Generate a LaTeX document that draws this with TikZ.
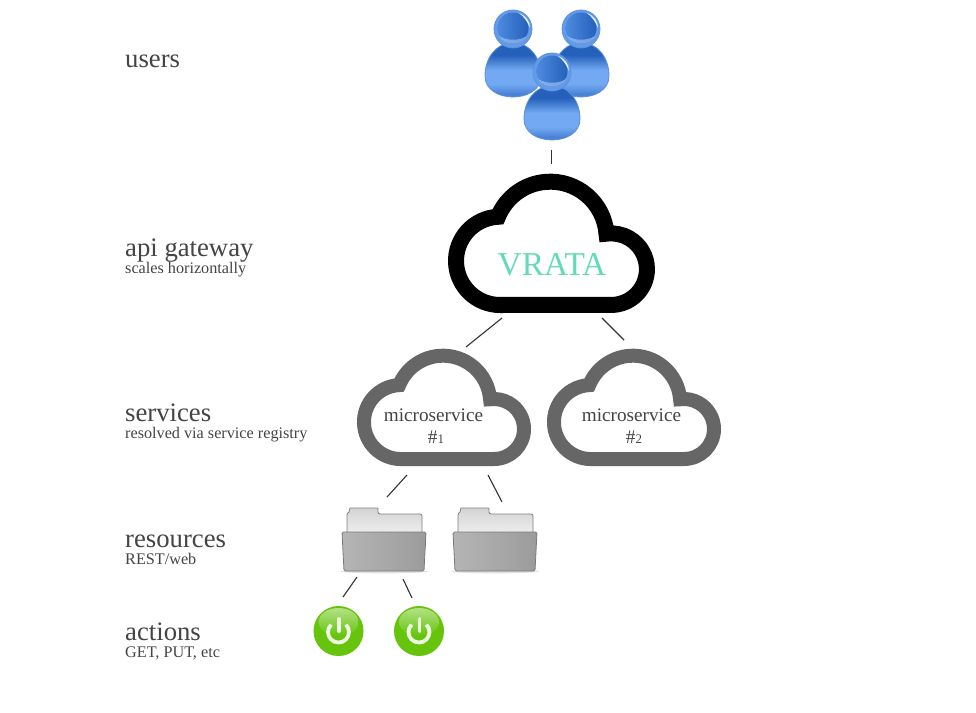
\documentclass[tikz,border=0pt]{standalone}
\usepackage{fontspec}
\setmainfont{Liberation Serif}
\usetikzlibrary{positioning, calc}

\definecolor{labelgray}{HTML}{444444}
\definecolor{cloudgray}{HTML}{666666}
\definecolor{vratagreen}{HTML}{63DBB8}
\definecolor{linkgray}{HTML}{333333}
\definecolor{powergreen}{HTML}{66C40C}
\definecolor{bodyA}{HTML}{2560BA}
\definecolor{bodyB}{HTML}{72A9F2}
\definecolor{bodyC}{HTML}{3F7DD8}
\definecolor{bodyD}{HTML}{4A83D6}

\pgfdeclareverticalshading{bodyshade}{100bp}{
  color(0bp)=(bodyD); color(25bp)=(bodyD); color(28bp)=(bodyD); color(37bp)=(bodyB); color(50bp)=(bodyB);
  color(64bp)=(bodyA); color(75bp)=(bodyA); color(100bp)=(bodyA)}

\tikzset{
  iconbox/.style={inner sep=0pt, outer sep=0pt},
  biglabel/.style={anchor=base west, inner sep=0pt, text=labelgray, font=\fontsize{26.7}{30}\selectfont},
  sublabel/.style={anchor=base west, inner sep=0pt, text=labelgray, font=\fontsize{16.2}{18}\selectfont},
  microtext/.style={inner sep=0pt, align=center, text=labelgray, font=\fontsize{19.2}{21.7}\selectfont},
  link/.style={draw=linkgray, line width=1.1pt},
  pics/cloudshape/.style={code={
    \draw[pic actions, line join=miter] (-43,51.5) -- (50,51.5)
      arc[start angle=90, end angle=-97.5, radius=30]
      arc[start angle=-4.5, end angle=-157.8, radius=47.3]
      arc[start angle=-92.8, end angle=-270, radius=37] -- cycle;
  }},
  pics/person/.style={code={
    \shade[shading=bodyshade, draw=bodyC!85!white, line width=.8pt] (0,14)
      .. controls (18,14) and (28,30) .. (28,47)
      .. controls (28,61) and (14,68) .. (0,68)
      .. controls (-14,68) and (-28,61) .. (-28,47)
      .. controls (-28,30) and (-18,14) .. (0,14) -- cycle;
    \fill[bodyB!80!bodyA] (0,0) circle (19);
    \draw[bodyC!85!white, line width=.8pt] (0,0) circle (19);
    \shade[left color=bodyC!70!bodyB, right color=bodyA] (0,-1) circle (15.5);
    \fill[white, opacity=.85] (6,-16) .. controls (13,-13) and (17,-8) .. (17,-1)
      .. controls (14,-8) and (11,-12) .. (6,-16) -- cycle;
    \fill[bodyB!60!white, opacity=.6] (-14,7) .. controls (-6,12) and (6,12) .. (14,7)
      .. controls (8,17) and (-8,17) .. (-14,7) -- cycle;
  }},
  pics/folder/.style={code={
    \fill[black!12] (0,32.5) ellipse (44 and 1.8);
    \shade[top color=black!17, bottom color=black!7, draw=black!50, line width=.8pt]
      (-37,-6) -- (-37,-24) .. controls (-37,-26) and (-36,-26) .. (-35,-27)
      -- (-34,-31) -- (-7,-31) .. controls (-6,-31) and (-6,-30) .. (-6,-29)
      -- (-6,-27) .. controls (-6,-26) and (-5,-25) .. (-4,-25)
      -- (36,-25) .. controls (38,-25) and (38,-24) .. (38,-22) -- (38,-6) -- cycle;
    \shade[left color=black!29, right color=black!39, draw=black!52, line width=.8pt, rounded corners=1.5pt]
      (-42,-7) -- (42,-7) -- (40,32) -- (-40,32) -- cycle;
  }},
  pics/powerbutton/.style={code={
    \fill[powergreen] (0,0) circle (25);
    \shade[top color=white!50!powergreen, bottom color=powergreen] (0,-9) ellipse (20 and 14);
    \draw[white!88!powergreen, line width=3.8pt] (7.4,-6.4)
      arc[start angle=-45, end angle=225, radius=10.5];
    \draw[white!88!powergreen, line width=3.8pt, line cap=round] (.5,-12) -- (.5,0);
  }},
}

\begin{document}
\begin{tikzpicture}[x=1pt, y=-1pt]
  \useasboundingbox (0,0) rectangle (976,712);
  \fill[white] (0,0) rectangle (976,712);

  % boxes the icons sit in
  \node[iconbox, minimum width=123pt, minimum height=130pt] (users) at (547.5,75) {};
  \node[iconbox, minimum width=207pt, minimum height=139pt] (vrata) at (551.5,243.5) {};
  \node[iconbox, minimum width=174pt, minimum height=117pt] (micro1) at (444,407.5) {};
  \node[iconbox, minimum width=174pt, minimum height=117pt, right=16pt of micro1] (micro2) {};
  \node[iconbox, minimum width=84pt, minimum height=66pt] (folder1) at (384,539) {};
  \node[iconbox, minimum width=84pt, minimum height=66pt, right=27pt of folder1] (folder2) {};
  \node[iconbox, circle, minimum size=50pt] (power1) at (338.5,631) {};
  \node[iconbox, circle, minimum size=50pt, right=30.5pt of power1] (power2) {};

  % icons
  \pic at (513,29) {person};
  \pic at (581,29) {person};
  \pic at (552,72) {person};
  \pic[draw=black, line width=16pt, scale=1.193] at (vrata) {cloudshape};
  \pic[draw=cloudgray, line width=14pt] at (micro1) {cloudshape};
  \pic[draw=cloudgray, line width=14pt] at (micro2) {cloudshape};
  \pic at (folder1) {folder};
  \pic at (folder2) {folder};
  \pic at (power1) {powerbutton};
  \pic at (power2) {powerbutton};

  % connectors
  \draw[draw=linkgray, line width=.8pt] ([shift={(3.5,10)}]users.south) -- ([shift={(-.5,-10)}]vrata.north);
  \draw[link] ([shift={(-49.5,5)}]vrata.south) -- ([shift={(22,-2)}]micro1.north);
  \draw[link] ([shift={(50.5,5)}]vrata.south) -- ([shift={(-10,-9)}]micro2.north);
  \draw[link] ([shift={(-37,9)}]micro1.south) -- ([shift={(3,-9)}]folder1.north);
  \draw[link] ([shift={(44,9)}]micro1.south) -- ([shift={(7,-4)}]folder2.north);
  \draw[link] ([shift={(-27,5)}]folder1.south) -- ([shift={(4.5,-9)}]power1.north);
  \draw[link] ([shift={(19,7)}]folder1.south) -- ([shift={(-7,-8)}]power2.north);

  % cloud texts
  \node[inner sep=0pt, anchor=base, text=vratagreen, font=\fontsize{33.4}{36}\selectfont] (vrataText) at (552,275) {VRATA};
  \node[microtext] (microText1) at (433.5,426) {microservice\\[.5pt]\hspace*{5pt}\#{\fontsize{13}{13}\selectfont 1}};
  \node[microtext] (microText2) at (631.5,426) {microservice\\[.5pt]\hspace*{5pt}\#{\fontsize{13}{13}\selectfont 2}};

  % left column
  \node[biglabel] (usersLabel) at (125,67) {users};
  \node[biglabel] (gatewayLabel) at (125,256) {api gateway};
  \node[sublabel] (gatewaySub) at (125,273) {scales horizontally};
  \node[biglabel] (servicesLabel) at (125,421) {services};
  \node[sublabel] (servicesSub) at (125,438) {resolved via service registry};
  \node[biglabel] (resourcesLabel) at (125,547) {resources};
  \node[sublabel] (resourcesSub) at (125,564) {REST/web};
  \node[biglabel] (actionsLabel) at (125,640) {actions};
  \node[sublabel] (actionsSub) at (125,657) {GET, PUT, etc};
\end{tikzpicture}
\end{document}
